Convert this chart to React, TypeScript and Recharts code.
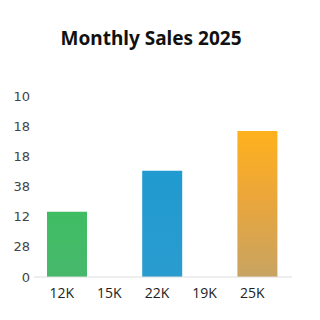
import React from "react"
import { BarChart, Bar, XAxis, YAxis, Cell } from "recharts"

const categories = ["12K", "15K", "22K", "19K", "25K"]
const sales = [10.8, 0, 17.6, 0, 24.2]
const yTicks = [0, 5, 10, 15, 20, 25, 30]
const yTickLabels = ["0", "28", "12", "38", "18", "18", "10"]
const barFills = ["url(#gGreen)", "none", "url(#gBlue)", "none", "url(#gOrange)"]

const data = categories.map((month, i) => ({ month, sales: sales[i] }))

export default function App() {
  return (
    <div style={{ position: "absolute", left: 0, top: 0, width: 320, height: 320, background: "#fff" }}>
      <div
        style={{
          position: "absolute",
          left: 0,
          top: 27,
          width: 302,
          textAlign: "center",
          fontFamily: "'Noto Sans', sans-serif",
          fontWeight: 700,
          fontSize: 19,
          color: "#111",
          lineHeight: "22px",
        }}
      >
        Monthly Sales 2025
      </div>
      <BarChart
        width={320}
        height={320}
        data={data}
        margin={{ top: 96, right: 28, left: 0, bottom: 13 }}
        barSize={40}
      >
        <defs>
          <linearGradient id="gGreen" x1="0" y1="0" x2="0" y2="1">
            <stop offset="0%" stopColor="#3fbd63" />
            <stop offset="100%" stopColor="#47b86b" />
          </linearGradient>
          <linearGradient id="gBlue" x1="0" y1="0" x2="0" y2="1">
            <stop offset="0%" stopColor="#209acf" />
            <stop offset="100%" stopColor="#2a9ccf" />
          </linearGradient>
          <linearGradient id="gOrange" x1="0" y1="0" x2="0" y2="1">
            <stop offset="0%" stopColor="#ffb11d" />
            <stop offset="45%" stopColor="#eba63a" />
            <stop offset="100%" stopColor="#c8a462" />
          </linearGradient>
        </defs>
        <XAxis
          dataKey="month"
          axisLine={{ stroke: "#dddddd" }}
          tickLine={false}
          padding={{ left: 9, right: 11 }}
          tick={{ fill: "#222", fontSize: 14, fontFamily: "'Open Sans', sans-serif", dx: -5 }}
          tickMargin={5}
        />
        <YAxis
          width={34}
          domain={[0, 30]}
          ticks={yTicks}
          axisLine={false}
          tickLine={false}
          tickSize={2}
          tick={{ fill: "#444", fontSize: 13, fontFamily: "'DejaVu Sans', sans-serif" }}
          tickFormatter={(v: number) => yTickLabels[yTicks.indexOf(v)] ?? String(v)}
        />
        <Bar dataKey="sales" isAnimationActive={false}>
          {data.map((d, i) => (
            <Cell key={d.month} fill={barFills[i]} />
          ))}
        </Bar>
      </BarChart>
    </div>
  )
}
